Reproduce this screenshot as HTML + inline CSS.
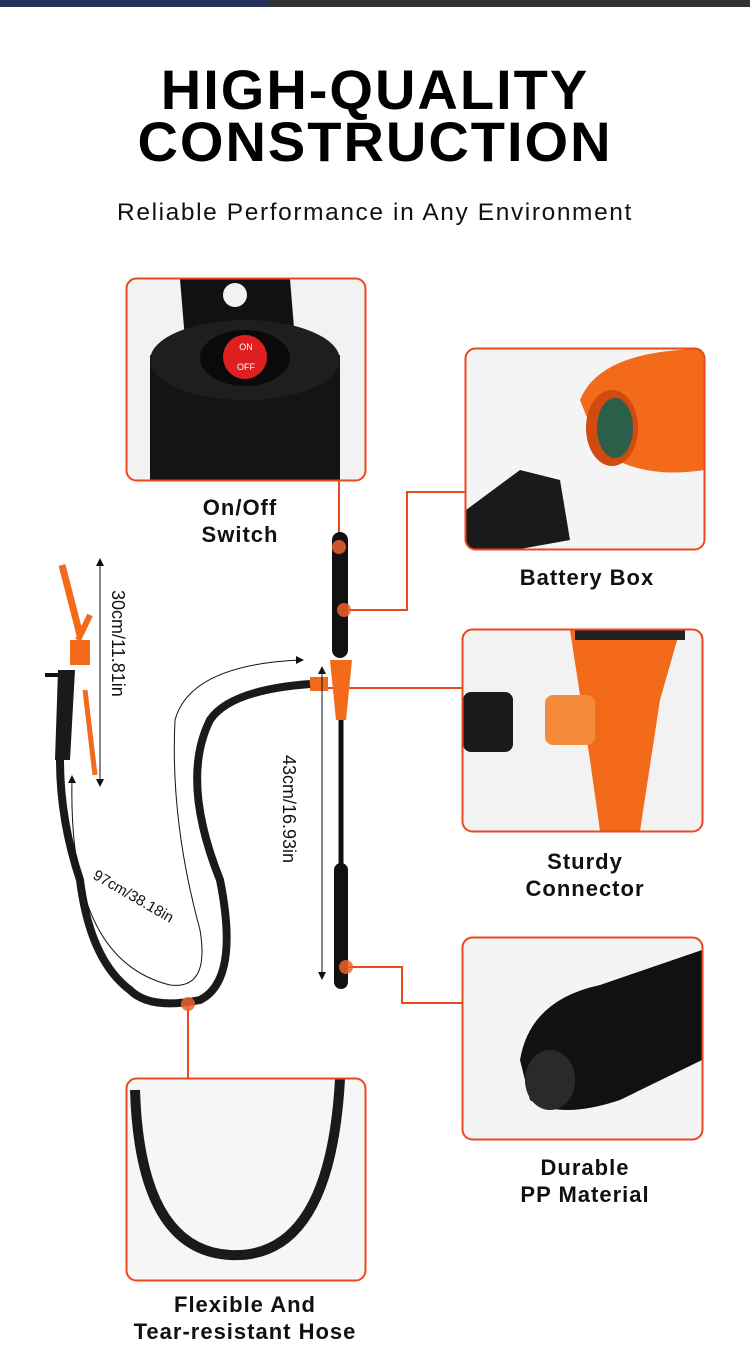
<!DOCTYPE html>
<html><head><meta charset="utf-8"><style>
html,body{margin:0;padding:0;background:#fff;}
body{width:750px;height:1364px;position:relative;overflow:hidden;font-family:"Liberation Sans",sans-serif;}
.t{position:absolute;left:0;width:750px;text-align:center;font-weight:900;font-size:56px;letter-spacing:2px;color:#000;line-height:1;}
.sub{position:absolute;left:0;width:750px;text-align:center;font-size:24.5px;top:199px;color:#111;letter-spacing:1.6px;}
.lab{position:absolute;font-weight:bold;font-size:22px;text-align:center;line-height:27px;color:#111;letter-spacing:1px;}
</style></head><body>
<div style="position:absolute;left:0;top:0;width:270px;height:7px;background:#23315a"></div>
<div style="position:absolute;left:270px;top:0;width:480px;height:7px;background:#333"></div>
<div class="t" style="top:62px">HIGH-QUALITY</div>
<div class="t" style="top:114px">CONSTRUCTION</div>
<div class="sub">Reliable Performance in Any Environment</div>

<svg width="750" height="1364" style="position:absolute;left:0;top:0" xmlns="http://www.w3.org/2000/svg">
<defs>
<clipPath id="c1"><rect x="127" y="279" width="238" height="201" rx="10"/></clipPath>
<clipPath id="c2"><rect x="466" y="349" width="238" height="200" rx="10"/></clipPath>
<clipPath id="c3"><rect x="463" y="630" width="239" height="201" rx="10"/></clipPath>
<clipPath id="c4"><rect x="463" y="938" width="239" height="201" rx="10"/></clipPath>
<clipPath id="c5"><rect x="127" y="1079" width="238" height="201" rx="10"/></clipPath>
</defs>
<g clip-path="url(#c1)">
<rect x="127" y="279" width="238" height="201" fill="#f2f2f2"/>
<path d="M180 279 L185 340 L295 340 L290 279 Z" fill="#111"/>
<circle cx="235" cy="295" r="12" fill="#f2f2f2"/>
<rect x="150" y="355" width="190" height="130" fill="#141414"/>
<ellipse cx="245" cy="360" rx="95" ry="40" fill="#1e1e1e"/>
<ellipse cx="245" cy="358" rx="45" ry="28" fill="#0a0a0a"/>
<circle cx="245" cy="357" r="22" fill="#e02020"/>
<text x="246" y="350" font-size="9" fill="#fff" text-anchor="middle" font-family="Liberation Sans">ON</text>
<text x="246" y="370" font-size="9" fill="#fff" text-anchor="middle" font-family="Liberation Sans">OFF</text>
</g>
<rect x="126.5" y="278.5" width="239" height="202" rx="10" fill="none" stroke="#e8491d" stroke-width="2"/>
<g clip-path="url(#c2)">
<rect x="466" y="349" width="238" height="200" fill="#f4f4f4"/>
<path d="M580 400 Q600 350 704 349 L704 470 Q640 480 600 450 Z" fill="#f26a1a"/>
<ellipse cx="612" cy="428" rx="26" ry="38" fill="#d14a10"/>
<ellipse cx="615" cy="428" rx="18" ry="30" fill="#2c5f4a"/>
<path d="M466 510 L520 470 L560 480 L570 540 L520 549 L466 549 Z" fill="#1a1a1a"/>
</g>
<rect x="465.5" y="348.5" width="239" height="201" rx="10" fill="none" stroke="#e8491d" stroke-width="2"/>
<g clip-path="url(#c3)">
<rect x="463" y="630" width="239" height="201" fill="#f2f2f2"/>
<path d="M570 630 L680 630 L660 700 L640 831 L600 831 L590 760 Z" fill="#f26a1a"/>
<rect x="545" y="695" width="50" height="50" rx="8" fill="#f58a3a"/>
<rect x="463" y="692" width="50" height="60" rx="8" fill="#1a1a1a"/>
<rect x="575" y="630" width="110" height="10" fill="#222"/>
</g>
<rect x="462.5" y="629.5" width="240" height="202" rx="10" fill="none" stroke="#e8491d" stroke-width="2"/>
<g clip-path="url(#c4)">
<rect x="463" y="938" width="239" height="201" fill="#f4f4f4"/>
<path d="M520 1060 Q530 1000 600 985 L702 950 L702 1060 L620 1100 Q560 1120 530 1100 Z" fill="#111"/>
<ellipse cx="550" cy="1080" rx="25" ry="30" fill="#2a2a2a"/>
</g>
<rect x="462.5" y="937.5" width="240" height="202" rx="10" fill="none" stroke="#e8491d" stroke-width="2"/>
<g clip-path="url(#c5)">
<rect x="127" y="1079" width="238" height="201" fill="#f6f6f6"/>
<path d="M135 1090 Q140 1250 230 1255 Q330 1260 340 1079" fill="none" stroke="#1a1a1a" stroke-width="10"/>
</g>
<rect x="126.5" y="1078.5" width="239" height="202" rx="10" fill="none" stroke="#e8491d" stroke-width="2"/>

<g stroke="#e8491d" stroke-width="2" fill="none">
<path d="M339 481 L339 545"/>
<path d="M344 610 L407 610 L407 492 L465 492"/>
<path d="M325 688 L462 688"/>
<path d="M346 967 L402 967 L402 1003 L462 1003"/>
<path d="M188 1005 L188 1078"/>
</g>

<path d="M340 540 L340 650" stroke="#111" stroke-width="16" stroke-linecap="round"/>
<path d="M330 660 L352 660 L346 720 L336 720 Z" fill="#f26a1a"/>
<rect x="310" y="677" width="18" height="14" fill="#f26a1a"/>
<path d="M341 720 L341 880" stroke="#111" stroke-width="5"/>
<path d="M341 870 L341 982" stroke="#111" stroke-width="14" stroke-linecap="round"/>
<path d="M310 684 Q230 690 210 720 Q180 780 220 880 Q240 980 200 1000 Q150 1010 130 990 Q90 960 80 880 Q60 820 60 760" fill="none" stroke="#1a1a1a" stroke-width="8"/>
<path d="M62 565 L80 635" stroke="#f26a1a" stroke-width="7"/>
<path d="M78 640 L90 615" stroke="#f26a1a" stroke-width="6"/>
<rect x="70" y="640" width="20" height="25" fill="#f26a1a"/>
<path d="M58 670 L75 670 L70 760 L55 760 Z" fill="#1a1a1a"/>
<path d="M85 690 L95 775" stroke="#f26a1a" stroke-width="5"/>
<path d="M45 675 L58 675" stroke="#111" stroke-width="4"/>

<g fill="#f0622a" opacity="0.85">
<circle cx="339" cy="547" r="7"/><circle cx="344" cy="610" r="7"/><circle cx="346" cy="967" r="7"/><circle cx="188" cy="1004" r="7"/>
</g>

<g stroke="#111" stroke-width="1" fill="none">
<path d="M100 560 L100 785"/>
<path d="M322 668 L322 978"/>
<path d="M72 780 Q68 960 170 985 Q210 990 200 930 Q170 820 175 720 Q190 665 300 660"/>
</g>
<g fill="#111">
<path d="M100 558 l-4 8 h8z"/><path d="M100 787 l-4 -8 h8z"/>
<path d="M322 666 l-4 8 h8z"/><path d="M322 980 l-4 -8 h8z"/>
<path d="M72 775 l-4 8 h8z"/><path d="M304 660 l-8 -4 v8z"/>
</g>
<g font-family="Liberation Sans" font-size="18" fill="#111">
<text transform="translate(112,590) rotate(90)">30cm/11.81in</text>
<text transform="translate(283,755) rotate(90)">43cm/16.93in</text>
<text transform="translate(92,878) rotate(30)" font-size="15">97cm/38.18in</text>
</g>
</svg>

<div class="lab" style="left:140px;width:200px;top:494px">On/Off<br>Switch</div>
<div class="lab" style="left:487px;width:200px;top:564px">Battery Box</div>
<div class="lab" style="left:485px;width:200px;top:848px">Sturdy<br>Connector</div>
<div class="lab" style="left:485px;width:200px;top:1154px">Durable<br>PP Material</div>
<div class="lab" style="left:95px;width:300px;top:1291px">Flexible And<br>Tear-resistant Hose</div>
</body></html>
